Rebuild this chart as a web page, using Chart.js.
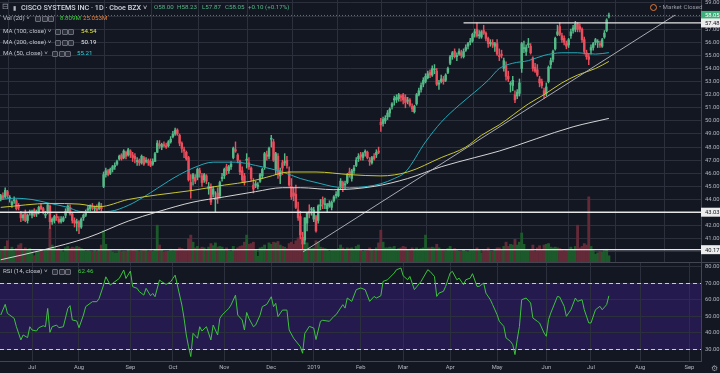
<!DOCTYPE html>
<html><head><meta charset="utf-8">
<script src="https://cdn.jsdelivr.net/npm/chart.js@4"></script>
<style>
html,body{margin:0;padding:0;background:#131722;width:720px;height:373px;overflow:hidden;font-family:Roboto,"Liberation Sans",sans-serif;}
canvas{position:absolute;left:0;}
#main{top:0;}
#rsi{top:262px;}
.t{position:absolute;white-space:nowrap;font-size:6.2px;line-height:9px;color:#c3c6ce;}
.g{color:#53b987;font-size:6.2px;}
.ic{position:absolute;width:4px;height:4px;border:1px solid #6b6e78;background:#2a2e39;border-radius:1px;}
.sep{position:absolute;background:#434651;}
</style></head>
<body>
<canvas id="main" width="720" height="262"></canvas>
<canvas id="rsi" width="720" height="111"></canvas>
<div class="sep" style="left:0;top:262px;width:720px;height:1px;"></div>

<div class="t" style="left:2px;top:2px;font-size:8px;color:#9598a1;">⊟</div>
<div class="t" style="left:13px;top:2.5px;font-size:6px;color:#b2b5be;">▮</div>
<div class="t" style="left:21px;top:2.5px;font-size:7.2px;color:#d1d4dc;font-weight:500;">CISCO SYSTEMS INC · 1D · Cboe BZX ˅</div>
<div class="t g" style="left:154px;top:2.5px;">O58.00</div>
<div class="t g" style="left:177px;top:2.5px;">H58.23</div>
<div class="t g" style="left:202px;top:2.5px;">L57.87</div>
<div class="t g" style="left:225px;top:2.5px;">C58.05</div>
<div class="t g" style="left:248px;top:2.5px;">+0.10 (+0.17%)</div>

<div class="t" style="left:3px;top:14px;">Vol (20) ˅</div>
<div class="ic" style="left:35px;top:16px;"></div><div class="ic" style="left:41.5px;top:16px;"></div><div class="ic" style="left:48px;top:16px;"></div>
<div class="t" style="left:60px;top:14px;color:#3ecf3e;">8.809M</div>
<div class="t" style="left:83px;top:14px;color:#e8833a;">25.053M</div>

<div class="t" style="left:3px;top:26.5px;">MA (100, close) ˅</div>
<div class="ic" style="left:55px;top:28.5px;"></div><div class="ic" style="left:61.5px;top:28.5px;"></div><div class="ic" style="left:68px;top:28.5px;"></div>
<div class="t" style="left:81px;top:26.5px;color:#e5e54b;">54.54</div>

<div class="t" style="left:3px;top:37.5px;">MA (200, close) ˅</div>
<div class="ic" style="left:55px;top:39.5px;"></div><div class="ic" style="left:61.5px;top:39.5px;"></div><div class="ic" style="left:68px;top:39.5px;"></div>
<div class="t" style="left:81px;top:37.5px;color:#e8e8e8;">50.19</div>

<div class="t" style="left:3px;top:48.5px;">MA (50, close) ˅</div>
<div class="ic" style="left:52px;top:50.5px;"></div><div class="ic" style="left:58.5px;top:50.5px;"></div><div class="ic" style="left:65px;top:50.5px;"></div>
<div class="t" style="left:77px;top:48.5px;color:#35d0dc;">55.21</div>

<div class="t" style="left:3px;top:266.5px;">RSI (14, close) ˅</div>
<div class="ic" style="left:52px;top:268.5px;"></div><div class="ic" style="left:58.5px;top:268.5px;"></div><div class="ic" style="left:65px;top:268.5px;"></div>
<div class="t" style="left:78px;top:266.5px;color:#3ecf3e;">62.46</div>

<div style="position:absolute;left:650px;top:4px;width:5px;height:5px;border:1px solid #e07b39;border-radius:50%;"></div>
<div class="t" style="left:659px;top:2.5px;color:#9598a1;">• Market Closed</div>
<div class="t" style="left:711px;top:364px;font-size:8px;color:#9598a1;">⚙</div>

<script>
// ---------- data ----------
const monthIdx = [15,36,59,78,101,122,141,162,181,202,223,245,265,287,309];
const monthLabels = ['Jul','Aug','Sep','Oct','Nov','Dec','2019','Feb','Mar','Apr','May','Jun','Jul','Aug','Sep'];
const priceTicks = [40,41,42,43,44,45,46,47,48,49,50,51,52,53,54,55,56,57,58,59];
const rsiTicks = [30,40,50,60,70,80];

const opens = [
43.9,44.0,44.3,44.2,44.6,44.1,43.6,43.9,43.9,43.5,
43.0,42.6,43.0,42.4,43.0,42.8,43.2,42.9,43.0,43.5,
43.3,42.8,43.0,43.5,42.3,42.4,42.7,42.5,42.3,42.4,
42.8,43.1,43.4,42.9,42.4,42.2,42.3,41.9,42.6,42.8,
43.2,43.3,43.5,43.3,43.3,43.3,43.5,45.0,45.9,46.2,
46.0,46.3,46.5,46.7,47.1,47.4,47.2,47.6,47.4,47.7,
47.4,47.3,46.9,47.0,46.8,47.2,46.9,47.0,46.9,46.7,
46.9,47.6,48.2,48.0,48.2,48.1,48.1,48.4,48.8,49.0,
49.3,48.9,48.3,47.8,47.6,47.2,45.3,45.6,45.7,45.7,
46.2,45.8,45.5,45.8,44.8,45.0,44.4,44.0,44.5,44.3,
45.6,45.8,46.5,46.2,46.5,47.2,47.8,47.4,46.9,46.2,
45.8,47.0,46.8,46.4,45.1,45.1,45.0,45.4,45.8,46.5,
47.4,47.3,48.6,48.4,46.3,47.3,45.8,46.8,46.8,47.0,
46.1,45.0,44.5,44.4,43.2,42.7,41.1,40.9,42.2,43.1,
43.2,42.5,42.7,42.4,43.5,44.0,43.6,43.3,43.5,43.4,
43.9,44.3,44.3,45.0,45.3,45.1,45.3,46.1,45.6,46.2,
46.6,47.1,47.4,47.2,47.6,47.6,47.0,46.8,47.3,47.4,
47.7,49.9,49.8,50.0,50.3,50.6,51.1,51.6,51.6,51.7,
51.9,52.0,51.8,51.5,51.6,51.1,50.7,51.3,52.0,52.4,
52.8,53.0,53.3,53.7,53.5,53.9,53.8,52.8,53.0,53.2,
53.1,53.7,54.4,54.9,55.3,54.9,55.1,55.2,54.9,55.4,
55.7,56.0,56.1,56.7,57.0,56.5,56.4,56.9,56.7,56.3,
55.9,56.0,55.7,55.9,55.0,55.1,54.0,54.2,53.4,52.8,
52.7,52.0,51.9,52.1,54.0,55.5,55.3,55.8,55.7,54.8,
54.1,53.9,53.2,53.0,52.3,52.1,53.0,54.3,54.7,55.5,
56.6,57.2,56.5,56.3,55.9,55.8,56.5,56.9,57.0,57.4,
57.2,57.0,56.2,55.2,54.9,55.4,55.6,56.0,56.0,55.9,
55.7,56.4,56.9,58.00];
const highs = [
44.2,44.4,44.5,44.9,44.7,44.3,43.9,44.2,44.0,43.7,
43.1,42.9,43.2,42.9,43.2,43.2,43.3,43.2,43.5,43.7,
43.4,43.1,43.7,43.6,42.6,42.8,42.9,42.7,42.7,42.7,
43.3,43.6,43.6,43.0,42.6,42.5,42.4,42.6,42.9,43.2,
43.5,43.6,43.7,43.5,43.6,43.8,43.7,46.1,46.4,46.3,
46.4,46.6,46.8,47.0,47.4,47.5,47.8,47.7,47.9,47.8,
47.6,47.5,47.2,47.1,47.4,47.3,47.2,47.1,47.1,47.1,
47.6,48.5,48.5,48.3,48.4,48.3,48.5,48.8,49.2,49.45,
49.4,49.0,48.4,48.0,47.7,47.3,45.9,46.0,45.9,46.4,
46.4,46.0,46.0,45.9,45.3,45.2,45.0,44.6,44.9,45.4,
46.0,46.4,46.7,46.6,46.9,48.0,48.4,47.5,47.0,46.5,
46.0,47.5,47.2,46.5,45.6,45.4,45.3,46.0,46.4,47.6,
47.7,48.0,48.9,48.6,47.6,47.5,46.4,47.0,47.5,47.3,
46.5,45.6,44.9,45.1,43.8,43.1,41.5,42.6,43.0,43.6,
43.4,43.4,42.8,43.6,44.0,44.2,44.1,43.7,43.9,43.9,
44.3,44.6,44.9,45.6,45.4,45.4,46.0,46.4,46.3,46.6,
47.2,47.5,47.6,47.6,47.8,47.7,47.2,47.3,47.5,47.8,
48.0,50.2,50.3,50.4,50.8,51.0,51.4,51.9,52.0,52.1,
52.0,52.1,52.0,51.8,51.7,51.3,51.2,52.1,52.5,52.9,
53.3,53.6,53.8,53.9,54.2,54.3,54.0,53.1,53.5,53.4,
53.6,54.1,55.0,55.3,55.5,55.2,55.5,55.4,55.5,55.8,
56.0,56.3,56.7,57.0,57.48,56.9,56.9,57.3,56.8,56.4,
56.2,56.2,56.0,56.2,55.5,55.4,54.8,54.5,53.8,53.0,
53.4,52.3,52.4,53.2,56.0,56.1,55.8,56.3,55.9,54.9,
54.4,54.3,53.4,53.2,52.5,52.9,54.2,54.8,55.4,56.4,
57.3,57.5,56.7,56.5,56.1,56.3,57.0,57.3,57.6,57.5,
57.4,57.1,56.4,55.4,55.1,55.8,56.0,56.3,56.2,56.1,
56.3,56.9,57.8,58.23];
const lows = [
43.8,43.9,44.0,44.1,44.1,43.8,43.4,43.7,43.2,43.2,
42.3,42.4,42.3,42.2,42.8,42.6,42.7,42.7,42.9,43.2,
42.9,42.6,42.9,41.8,42.1,42.2,42.4,42.2,42.2,42.3,
42.6,43.0,42.8,42.2,41.9,41.6,41.4,41.8,42.4,42.7,
43.0,43.1,43.2,43.0,43.1,43.2,43.0,44.9,45.7,45.8,
45.9,46.1,46.3,46.6,47.0,47.0,47.1,47.1,47.3,47.2,
46.9,46.8,46.6,46.6,46.7,46.6,46.8,46.6,46.5,46.6,
46.9,47.6,47.9,47.8,48.0,47.9,48.0,48.3,48.7,48.9,
48.9,48.1,47.6,47.2,47.0,45.4,44.1,45.1,45.2,45.5,
45.7,45.0,45.3,45.2,44.4,43.6,44.2,43.03,43.7,44.1,
45.4,45.6,45.9,46.0,46.3,47.1,47.6,46.8,45.9,45.3,
45.1,46.4,46.3,45.4,44.5,44.9,44.8,45.3,45.6,46.3,
47.0,47.1,48.0,46.9,45.9,45.6,45.2,45.9,46.6,46.4,
45.0,44.0,43.9,43.3,42.4,41.0,40.17,40.6,41.6,42.6,
42.8,42.3,41.5,42.2,43.2,43.3,43.3,43.0,43.4,43.2,
43.8,44.1,44.2,44.8,44.6,44.8,45.2,45.7,45.4,46.0,
46.5,46.9,47.0,47.0,47.3,47.1,46.6,46.7,47.0,47.2,
47.5,49.2,49.6,49.8,50.1,50.3,50.9,51.2,51.4,51.5,
51.5,51.3,51.0,51.3,51.1,50.7,50.6,51.2,51.9,52.2,
52.6,52.9,53.2,53.3,53.4,53.6,52.7,52.4,52.9,52.8,
53.0,53.6,54.3,54.7,54.8,54.6,55.0,54.8,54.8,55.3,
55.5,55.8,56.0,56.4,56.4,56.3,56.3,56.6,56.1,55.6,
55.7,55.6,55.3,55.0,54.6,54.8,53.8,53.1,53.0,52.2,
52.3,51.4,51.7,51.9,53.7,55.2,55.0,55.6,55.1,53.8,
53.7,53.4,52.6,52.5,51.7,51.9,52.9,54.0,54.5,55.4,
56.5,56.5,56.0,55.8,55.5,55.6,56.3,56.7,56.8,56.8,
56.8,56.0,55.1,54.7,54.3,55.1,55.4,55.8,55.6,55.6,
55.6,56.3,56.8,57.87];
const closes = [
44.0,44.3,44.1,44.7,44.3,44.1,43.8,43.9,43.3,43.4,
42.6,42.8,42.4,42.8,43.0,43.1,42.8,43.1,43.4,43.3,
43.0,42.8,43.6,42.3,42.5,42.7,42.6,42.3,42.5,42.6,
43.1,43.5,42.9,42.4,42.2,42.3,41.9,42.5,42.8,43.1,
43.3,43.5,43.4,43.3,43.2,43.7,43.3,45.9,46.2,45.9,
46.3,46.5,46.6,46.9,47.3,47.1,47.7,47.3,47.8,47.4,
47.2,47.1,46.9,46.8,47.3,46.7,47.0,46.8,46.6,46.9,
47.5,48.3,48.1,48.2,48.1,48.0,48.4,48.6,49.0,49.3,
49.0,48.3,47.9,47.7,47.1,45.5,44.7,45.9,45.4,46.3,
46.0,45.3,45.9,45.4,45.0,43.8,44.8,44.0,44.1,45.3,
45.7,46.3,46.2,46.5,46.7,47.9,47.7,47.0,46.1,45.5,
45.3,47.0,46.5,45.6,44.8,45.2,45.1,45.9,46.3,47.5,
47.3,47.9,48.6,47.0,47.5,45.9,46.2,46.4,46.9,46.6,
45.1,44.2,44.3,43.4,42.6,41.3,40.6,42.6,43.0,42.9,
43.3,43.2,41.6,43.5,43.6,43.7,43.6,43.6,43.7,43.8,
44.2,44.4,44.8,45.4,45.0,45.2,45.9,45.9,46.2,46.4,
47.0,47.3,47.3,47.5,47.6,47.2,46.9,47.2,47.1,47.6,
47.6,49.7,50.1,50.2,50.6,50.9,51.3,51.7,51.8,52.0,
51.8,51.6,51.4,51.6,51.2,50.9,51.1,52.0,52.3,52.7,
53.1,53.4,53.6,53.5,54.0,53.9,52.8,52.9,53.2,53.0,
53.5,54.0,54.9,55.2,54.9,55.0,55.3,55.0,55.3,55.6,
55.9,56.1,56.6,56.8,56.5,56.5,56.8,56.7,56.3,55.9,
56.0,55.8,55.9,55.1,54.9,55.0,54.6,53.4,53.2,52.8,
53.1,51.6,52.2,52.9,55.9,55.6,55.6,55.9,55.2,54.0,
53.8,53.5,52.9,52.7,52.0,52.6,54.1,54.6,55.3,56.3,
56.8,56.6,56.2,56.0,55.7,56.2,56.8,57.1,57.4,57.0,
57.0,56.2,55.3,54.9,54.7,55.6,55.9,56.2,56.0,55.8,
56.2,56.7,57.7,58.05];
const volumes = [
17,16,18,22,30,17,21,16,19,24,
26,18,20,17,19,13,9,15,14,16,
15,17,18,48,24,20,18,19,17,14,
20,22,19,21,20,22,21,19,17,15,
16,15,14,16,15,18,24,44,25,17,
16,14,13,13,16,14,15,15,17,16,
18,17,16,15,16,18,17,15,16,15,
18,52,24,17,14,15,15,18,16,17,
17,20,19,18,17,33,38,28,20,22,
19,21,20,17,21,26,23,27,21,22,
21,18,20,16,15,22,18,20,22,23,
28,38,25,26,28,17,8,20,21,24,
18,27,25,28,27,29,24,22,21,19,
26,28,25,30,34,45,16,26,27,20,
19,20,30,28,21,20,19,18,15,18,
17,17,19,24,20,18,20,19,20,18,
22,24,18,15,16,16,20,17,16,20,
27,45,28,20,20,21,20,22,18,19,
20,22,21,17,18,20,18,20,18,19,
20,38,20,20,21,20,25,20,18,18,
16,19,22,18,19,16,15,15,17,15,
14,17,17,17,20,17,13,18,16,20,
15,15,18,20,20,18,22,28,22,25,
24,32,24,28,41,25,18,18,18,24,
15,20,23,18,24,25,26,21,20,21,
20,19,17,16,17,16,21,18,22,52,
20,22,26,24,92,22,16,11,13,15,
14,16,18,8.809];

// moving averages at [bar index, value]
const ma50Pts = [[1,44.0],[7,44.1],[15,44.0],[23,43.7],[31,43.4],[36,43.1],[42,43.05],[50,43.1],[58,43.55],[65,44.2],[71,44.85],[76,45.4],[81,45.9],[87,46.4],[96,46.85],[106,46.85],[115,46.6],[127,46.1],[135,45.6],[142,45.3],[151,44.95],[157,44.9],[165,45.0],[171,45.2],[177,45.6],[182,46.1],[191,48.4],[198,49.9],[206,51.2],[213,52.2],[219,53.1],[224,54.0],[230,54.4],[237,54.6],[244,55.0],[252,55.2],[259,55.2],[267,55.1],[273,55.21]];
const ma100Pts = [[1,43.4],[23,43.7],[36,43.65],[45,43.45],[58,44.0],[71,44.35],[87,44.7],[101,45.1],[113,45.4],[120,45.7],[130,46.1],[142,46.1],[157,45.9],[171,45.8],[183,46.1],[198,47.2],[209,48.0],[216,48.9],[224,49.7],[237,51.3],[244,52.0],[252,52.9],[259,53.5],[267,54.0],[273,54.54]];
const ma200Pts = [[1,39.4],[20,40.15],[40,41.1],[58,42.35],[71,43.05],[87,43.8],[101,44.2],[115,44.6],[127,44.9],[135,44.9],[150,44.75],[168,45.0],[183,45.6],[198,46.5],[213,47.2],[224,47.7],[257,49.55],[273,50.19]];
const rsiPts = [[1,50.8],[3,57.3],[4,51.8],[7,48.8],[8,43.7],[10,35.7],[11,38.7],[13,37.1],[14,43.7],[15,41.7],[17,41.1],[18,43.1],[20,44.3],[21,43.7],[22,54.8],[23,40.3],[24,43.7],[26,44.7],[27,43.1],[29,43.7],[31,54.8],[32,56.5],[33,47.8],[35,47.2],[36,43.1],[38,50.8],[39,55.9],[42,58.9],[44,58.9],[45,60.9],[47,69.0],[48,74.0],[50,69.0],[52,71.0],[54,73.0],[56,78.1],[57,73.0],[59,77.5],[60,68.0],[62,67.0],[63,65.0],[65,62.9],[66,67.0],[68,62.5],[69,63.9],[70,61.9],[72,72.0],[73,71.0],[75,69.4],[77,71.0],[78,73.0],[79,75.0],[80,69.0],[82,56.9],[83,48.8],[84,38.7],[85,31.6],[86,25.6],[87,39.7],[89,36.7],[90,43.7],[91,41.1],[93,43.7],[95,35.7],[96,44.7],[98,38.7],[99,48.8],[100,50.8],[103,54.8],[104,56.9],[106,62.9],[107,50.8],[109,47.8],[110,41.7],[111,52.4],[112,48.8],[114,43.7],[115,44.7],[117,50.8],[118,55.9],[120,57.3],[122,61.9],[123,55.9],[124,57.9],[125,49.8],[127,53.8],[129,53.8],[130,41.7],[132,36.7],[135,31.6],[136,27.6],[137,39.7],[138,41.7],[139,43.9],[141,42.9],[142,35.9],[144,47.0],[145,47.6],[148,47.0],[150,50.0],[151,51.0],[154,57.1],[155,55.0],[156,61.1],[158,59.1],[160,66.2],[162,67.2],[164,66.2],[166,59.1],[168,62.1],[169,61.1],[171,62.5],[172,71.2],[174,72.2],[177,76.3],[178,78.3],[180,79.3],[181,74.6],[183,72.2],[184,74.2],[186,66.2],[189,71.2],[192,78.3],[193,77.3],[195,74.2],[196,62.1],[197,64.1],[199,65.2],[200,68.2],[202,76.3],[203,77.3],[205,72.2],[206,73.2],[208,69.2],[209,72.2],[211,73.2],[212,75.9],[214,68.2],[215,68.2],[217,70.2],[218,64.1],[220,60.1],[221,57.1],[223,51.0],[224,47.0],[226,43.9],[227,36.9],[229,34.8],[230,32.8],[231,26.8],[232,35.9],[233,43.9],[234,60.1],[236,61.1],[238,58.1],[239,49.0],[241,47.0],[242,46.0],[244,39.9],[245,37.9],[246,48.0],[247,52.0],[250,62.1],[251,61.7],[253,56.1],[254,50.0],[256,54.0],[258,61.1],[259,59.1],[261,60.1],[262,54.0],[264,46.0],[265,46.0],[267,54.0],[269,56.1],[270,54.0],[272,57.1],[273,62.46]];
const trendPts = [[136.2,40.0],[302.6,58.08]];
const levelLines = [57.48, 43.03, 40.17];
const levelStart = [208, null, null];
const lastPrice = 58.05;

// ---------- layout ranges ----------
const XMIN = 0.67, XMAX = 314.2;
const PMIN = 39.229, PMAX = 59.229;
const VMAX = 370;
const RMIN = 22.9, RMAX = 82.38;

const up = '#53b987', dn = '#eb4d5c';
const gridColor = '#2c303d';
const sepColor = '#434651';
const tickFont = {family:'Roboto', size:5.8};
const isUp = closes.map((c,i)=>c>=opens[i]);
const pts = a => a.map(([x,y])=>({x,y}));

const levelDatasets = levelLines.map((v,k)=>({
  type:'line', yAxisID:'y', data:[{x: levelStart[k]===null?XMIN:levelStart[k], y:v},{x:XMAX,y:v}],
  borderColor:'#e6e6e6', borderWidth:1.4, pointRadius:0, order:1
}));

const labelPlugin = {
  id:'priceLabels',
  afterDraw(chart){
    const ctx = chart.ctx, ys = chart.scales.y, left = chart.chartArea.right;
    const boxes = [[lastPrice,'#3fae7a','#ffffff']].concat(levelLines.map(v=>[v,'#ececec','#131722']));
    ctx.save();
    ctx.font = '5.8px Roboto';
    ctx.textBaseline = 'middle';
    boxes.forEach(([v,bg,fg])=>{
      const y = ys.getPixelForValue(v);
      ctx.fillStyle = bg;
      ctx.fillRect(left, y-4.5, 720-left, 9);
      ctx.fillStyle = fg;
      ctx.fillText(v.toFixed(2), left+4, y+0.5);
    });
    ctx.restore();
  }
};

new Chart(document.getElementById('main'), {
  type:'bar',
  data:{datasets:[
    {type:'bar', yAxisID:'yv', data: volumes.map((v,i)=>({x:i,y:v})), backgroundColor: isUp.map(u=>u?'#1d5a2b':'#642a38'), barThickness:2.2, grouped:false, order:10},
    {type:'bar', yAxisID:'y', data: highs.map((h,i)=>({x:i,y:[lows[i],h]})), backgroundColor: isUp.map(u=>u?up:dn), barThickness:0.8, grouped:false, order:6},
    {type:'bar', yAxisID:'y', data: opens.map((o,i)=>({x:i,y:[o,closes[i]]})), backgroundColor: isUp.map(u=>u?up:dn), barThickness:1.8, minBarLength:1, grouped:false, order:5},
    {type:'line', yAxisID:'y', data: pts(ma200Pts), borderColor:'#d4d4d4', borderWidth:1, pointRadius:0, cubicInterpolationMode:'monotone', order:3},
    {type:'line', yAxisID:'y', data: pts(ma100Pts), borderColor:'#c8c832', borderWidth:1, pointRadius:0, cubicInterpolationMode:'monotone', order:3},
    {type:'line', yAxisID:'y', data: pts(ma50Pts), borderColor:'#23a9b8', borderWidth:1, pointRadius:0, cubicInterpolationMode:'monotone', order:3},
    {type:'line', yAxisID:'y', data: pts(trendPts), borderColor:'#a9abb2', borderWidth:1, pointRadius:0, order:2},
    {type:'line', yAxisID:'y', data:[{x:XMIN,y:lastPrice},{x:XMAX,y:lastPrice}], borderColor:'rgba(83,185,135,0.7)', borderWidth:1, borderDash:[1,2], pointRadius:0, order:2},
    ...levelDatasets
  ]},
  options:{
    responsive:false, animation:false, devicePixelRatio:1,
    layout:{padding:0},
    plugins:{legend:{display:false}, tooltip:{enabled:false}},
    scales:{
      x:{type:'linear', min:XMIN, max:XMAX, offset:false, position:'bottom',
        grid:{color:gridColor, drawTicks:false}, border:{display:false}, ticks:{display:false},
        afterBuildTicks:s=>{s.ticks = monthIdx.map(v=>({value:v}));},
        afterFit:s=>{s.height=0; s.paddingLeft=0; s.paddingRight=0;}},
      y:{type:'linear', position:'right', min:PMIN, max:PMAX,
        grid:{color:gridColor, drawTicks:false}, border:{display:true, color:sepColor},
        ticks:{color:'#b2b5be', font:tickFont, padding:4, autoSkip:false, callback:v=>Number(v).toFixed(2)},
        afterBuildTicks:s=>{s.ticks = priceTicks.map(v=>({value:v}));},
        afterFit:s=>{s.width=19; s.paddingTop=0; s.paddingBottom=0;}},
      yv:{type:'linear', display:false, min:0, max:VMAX}
    }
  },
  plugins:[labelPlugin]
});

const bandPlugin = {
  id:'rsiBand',
  beforeDraw(chart){
    const {ctx, chartArea:a} = chart, ys = chart.scales.y;
    const y70 = ys.getPixelForValue(70), y30 = ys.getPixelForValue(30);
    ctx.save();
    ctx.fillStyle = '#251a4d';
    ctx.fillRect(a.left, y70, a.right-a.left, y30-y70);
    ctx.restore();
  },
  beforeDatasetsDraw(chart){
    const {ctx, chartArea:a} = chart, ys = chart.scales.y;
    ctx.save();
    ctx.strokeStyle = '#c9cbd2';
    ctx.lineWidth = 1;
    ctx.setLineDash([4,3]);
    [70,30].forEach(v=>{
      const y = Math.round(ys.getPixelForValue(v))+0.5;
      ctx.beginPath(); ctx.moveTo(a.left,y); ctx.lineTo(a.right,y); ctx.stroke();
    });
    ctx.restore();
  }
};

new Chart(document.getElementById('rsi'), {
  type:'line',
  data:{datasets:[{data: pts(rsiPts), borderColor:'#3cc43c', borderWidth:1, pointRadius:0, tension:0}]},
  options:{
    responsive:false, animation:false, devicePixelRatio:1,
    layout:{padding:{top:1,left:0,right:0,bottom:0}},
    plugins:{legend:{display:false}, tooltip:{enabled:false}},
    scales:{
      x:{type:'linear', min:XMIN, max:XMAX, offset:false,
        grid:{color:gridColor, drawTicks:false}, border:{display:true, color:sepColor},
        ticks:{color:'#b2b5be', font:tickFont, padding:3, autoSkip:false, maxRotation:0,
          callback:v=>{const k = monthIdx.indexOf(v); return k>=0 ? monthLabels[k] : '';}},
        afterBuildTicks:s=>{s.ticks = monthIdx.map(v=>({value:v}));},
        afterFit:s=>{s.height=12; s.paddingLeft=0; s.paddingRight=0;}},
      y:{type:'linear', position:'right', min:RMIN, max:RMAX,
        grid:{color:gridColor, drawTicks:false}, border:{display:true, color:sepColor},
        ticks:{color:'#b2b5be', font:tickFont, padding:4, autoSkip:false, callback:v=>Number(v).toFixed(2)},
        afterBuildTicks:s=>{s.ticks = rsiTicks.map(v=>({value:v}));},
        afterFit:s=>{s.width=19; s.paddingTop=0; s.paddingBottom=0;}}
    }
  },
  plugins:[bandPlugin]
});
</script>
</body></html>
